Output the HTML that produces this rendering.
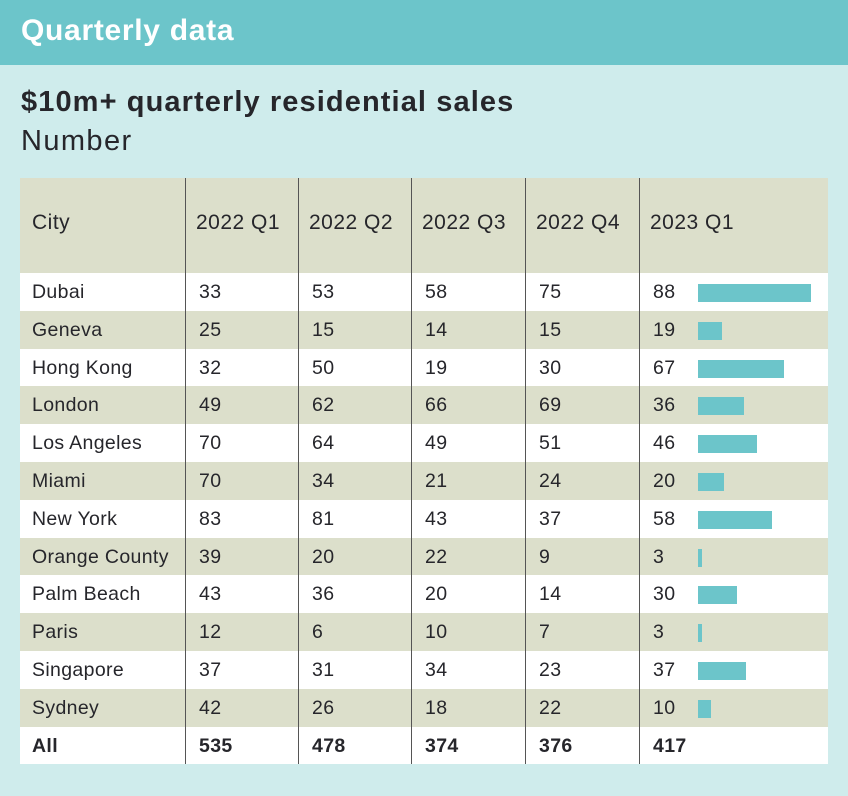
<!DOCTYPE html>
<html><head><meta charset="utf-8"><style>
body{margin:0;width:848px;height:796px;background:#cfecec;font-family:"Liberation Sans",sans-serif;color:#26262b;position:relative;overflow:hidden}
.hdr{position:absolute;left:0;top:0;width:848px;height:65px;background:#6cc5ca}
.hdr span{position:absolute;left:21px;top:14px;font-size:30px;font-weight:bold;color:#fff;letter-spacing:0.7px}
.t{position:absolute;left:21px;top:86px;font-size:29px;font-weight:bold;letter-spacing:1.1px}
.s{position:absolute;left:21px;top:125px;font-size:29px;letter-spacing:1.4px}
#tbl{position:absolute;left:0;top:0}
.c{position:absolute;font-size:19.5px;white-space:nowrap;letter-spacing:0.35px}
</style></head><body>
<div class="hdr"><span>Quarterly data</span></div>
<div class="t">$10m+ quarterly residential sales</div>
<div class="s">Number</div>
<div id="tbl"></div>
<script>
const cities=["Dubai","Geneva","Hong Kong","London","Los Angeles","Miami","New York","Orange County","Palm Beach","Paris","Singapore","Sydney"];
const headers=["City","2022 Q1","2022 Q2","2022 Q3","2022 Q4","2023 Q1"];
const q1_2022=[33,25,32,49,70,70,83,39,43,12,37,42];
const q2_2022=[53,15,50,62,64,34,81,20,36,6,31,26];
const q3_2022=[58,14,19,66,49,21,43,22,20,10,34,18];
const q4_2022=[75,15,30,69,51,24,37,9,14,7,23,22];
const q1_2023=[88,19,67,36,46,20,58,3,30,3,37,10];
const totals=[535,478,374,376,417];
const tbl=document.getElementById('tbl');
const L=20,R=828,T=178,HH=95,RH=37.8;
const colX=[20,185,298,411,525,639,828];
const barX=698,barScale=113/88;
function div(css,txt){const d=document.createElement('div');d.style.cssText=css;if(txt!==undefined)d.textContent=txt;tbl.appendChild(d);return d;}
const hb=div(`position:absolute;left:${L}px;top:${T}px;width:${R-L}px;height:${HH}px;background:#dcdfcb`);


headers.forEach((h,i)=>{const d=div(`left:${colX[i]+(i?11:12)}px;top:${T+33}px;font-size:21px;letter-spacing:0.5px`,h);d.className='c';

});
const series=[q1_2022,q2_2022,q3_2022,q4_2022,q1_2023];
const n=cities.length+1;
for(let r=0;r<n;r++){
  const y=T+HH+r*RH;
  const bg=r%2===0?'#ffffff':'#dcdfcb';
  const rw=div(`position:absolute;left:${L}px;top:${y}px;width:${R-L}px;height:${RH}px;background:${bg}`);
  
  
  const isAll=r===cities.length;
  const fw=isAll?'bold':'normal';
  const lab=div(`left:32px;top:${y+8}px;font-weight:${fw}`,isAll?'All':cities[r]);lab.className='c';
  
  
  for(let k=0;k<5;k++){
    const v=isAll?totals[k]:series[k][r];
    const c=div(`left:${colX[k+1]+14}px;top:${y+8}px;font-weight:${fw}`,String(v));c.className='c';
    
    
  }
  if(!isAll){
    const b=div(`position:absolute;left:${barX}px;top:${y+11}px;height:18px;width:${Math.max(2,q1_2023[r]*barScale)}px;background:#6cc5ca`);
    
    
  }
}
for(let i=1;i<=5;i++){
  const l=div(`position:absolute;left:${colX[i]}px;top:${T}px;width:1px;height:${HH+n*RH}px;background:#555`);
  
  
}
</script>
</body></html>
